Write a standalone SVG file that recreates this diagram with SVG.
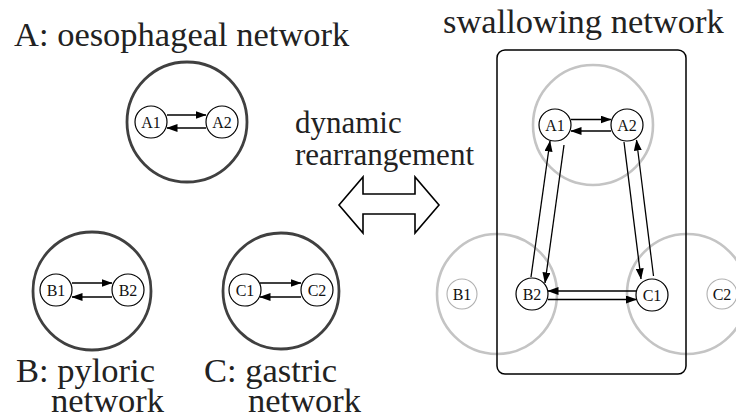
<svg xmlns="http://www.w3.org/2000/svg" width="736" height="418" viewBox="0 0 736 418">
  <style>
    .lbl { font-family: "Liberation Serif", "Times New Roman", serif; fill: #222; }
    .big { font-size: 34.5px; }
    .mid { font-size: 31px; }
    .nlbl { font-family: "Liberation Serif", "Times New Roman", serif; font-size: 16px; fill: #111; text-anchor: middle; }
    .group { fill: none; stroke: #404040; stroke-width: 2.8; }
    .ghost { fill: none; stroke: #c4c4c4; stroke-width: 2.6; }
    .node { fill: #fff; stroke: #000; stroke-width: 1.2; }
    .gnode { fill: #fff; stroke: #b0b0b0; stroke-width: 1.1; }
    .edge { fill: none; stroke: #000; stroke-width: 1.3; marker-end: url(#head); }
  </style>
  <defs>
    <marker id="head" markerUnits="userSpaceOnUse" markerWidth="11" markerHeight="8" refX="10.5" refY="4" orient="auto">
      <path d="M0,0 L11,4 L0,8 z" fill="#000"/>
    </marker>
  </defs>

  <rect width="736" height="418" fill="#fff"/>

  <!-- titles -->
  <text class="lbl big" x="14" y="46">A: oesophageal network</text>
  <text class="lbl big" x="443" y="33">swallowing network</text>
  <text class="lbl big" x="16" y="382">B: pyloric</text>
  <text class="lbl big" x="51" y="412">network</text>
  <text class="lbl big" x="204" y="382">C: gastric</text>
  <text class="lbl big" x="248" y="412">network</text>
  <text class="lbl mid" x="295" y="133">dynamic</text>
  <text class="lbl mid" x="295" y="165">rearrangement</text>

  <!-- double-headed hollow arrow -->
  <polygon points="339,205 363,177 363,194 415,194 415,177 439,205 415,233 415,214 363,214 363,233"
           fill="#fff" stroke="#000" stroke-width="1.6" stroke-linejoin="miter"/>

  <!-- separate networks -->
  <g id="network-A">
    <circle class="group" cx="187" cy="122" r="60"/>
  </g>
  <g id="network-B">
    <circle class="group" cx="92" cy="291" r="59"/>
  </g>
  <g id="network-C">
    <circle class="group" cx="281" cy="291" r="58"/>
  </g>

  <!-- swallowing network: faded group outlines and enclosing box -->
  <g id="swallow-groups">
    <circle class="ghost" cx="593" cy="125" r="60"/>
    <circle class="ghost" cx="497" cy="294" r="60"/>
    <circle class="ghost" cx="687" cy="294" r="60"/>
  </g>
  <g id="swallow-box">
    <rect x="497" y="50" width="189" height="324" rx="8" ry="8" fill="none" stroke="#000" stroke-width="1.5"/>
  </g>

  <!-- connectors -->
  <g id="connectors">
    <!-- A -->
    <line class="edge" x1="167" y1="115" x2="206" y2="115"/>
    <line class="edge" x1="206" y1="128" x2="167" y2="128"/>
    <!-- B -->
    <line class="edge" x1="72" y1="283" x2="112" y2="283"/>
    <line class="edge" x1="112" y1="297" x2="72" y2="297"/>
    <!-- C -->
    <line class="edge" x1="260" y1="283" x2="301" y2="283"/>
    <line class="edge" x1="301" y1="297" x2="260" y2="297"/>
    <!-- swallowing -->
    <line class="edge" x1="571" y1="119.5" x2="611" y2="119.5"/>
    <line class="edge" x1="611" y1="131" x2="571" y2="131"/>
    <line class="edge" x1="531" y1="277" x2="550" y2="141"/>
    <line class="edge" x1="564" y1="145" x2="545" y2="283"/>
    <line class="edge" x1="624" y1="142" x2="641" y2="279"/>
    <line class="edge" x1="653.5" y1="276" x2="636.5" y2="140"/>
    <line class="edge" x1="636" y1="291" x2="548" y2="291"/>
    <line class="edge" x1="548" y1="299.5" x2="636.5" y2="299.5"/>
  </g>

  <!-- nodes of the separate networks -->
  <g id="A1"><circle class="node" cx="151" cy="122" r="16"/><text class="nlbl" x="151" y="127.5">A1</text></g>
  <g id="A2"><circle class="node" cx="222" cy="122" r="16"/><text class="nlbl" x="222" y="127.5">A2</text></g>
  <g id="B1"><circle class="node" cx="56" cy="290" r="16"/><text class="nlbl" x="56" y="295.5">B1</text></g>
  <g id="B2"><circle class="node" cx="128" cy="290" r="16"/><text class="nlbl" x="128" y="295.5">B2</text></g>
  <g id="C1"><circle class="node" cx="245" cy="290" r="16"/><text class="nlbl" x="245" y="295.5">C1</text></g>
  <g id="C2"><circle class="node" cx="317" cy="290" r="16"/><text class="nlbl" x="317" y="295.5">C2</text></g>

  <!-- nodes of the swallowing network -->
  <g id="sw-A1"><circle class="node" cx="555" cy="125" r="16"/><text class="nlbl" x="555" y="130.5">A1</text></g>
  <g id="sw-A2"><circle class="node" cx="627" cy="125" r="16"/><text class="nlbl" x="627" y="130.5">A2</text></g>
  <g id="sw-B1"><circle class="gnode" cx="462" cy="294" r="15"/><text class="nlbl" x="462" y="299.5" fill="#333">B1</text></g>
  <g id="sw-B2"><circle class="node" cx="532" cy="294" r="16"/><text class="nlbl" x="532" y="299.5">B2</text></g>
  <g id="sw-C1"><circle class="node" cx="652" cy="295" r="16"/><text class="nlbl" x="652" y="300.5">C1</text></g>
  <g id="sw-C2"><circle class="gnode" cx="722" cy="294" r="15"/><text class="nlbl" x="722" y="299.5" fill="#333">C2</text></g>
</svg>
